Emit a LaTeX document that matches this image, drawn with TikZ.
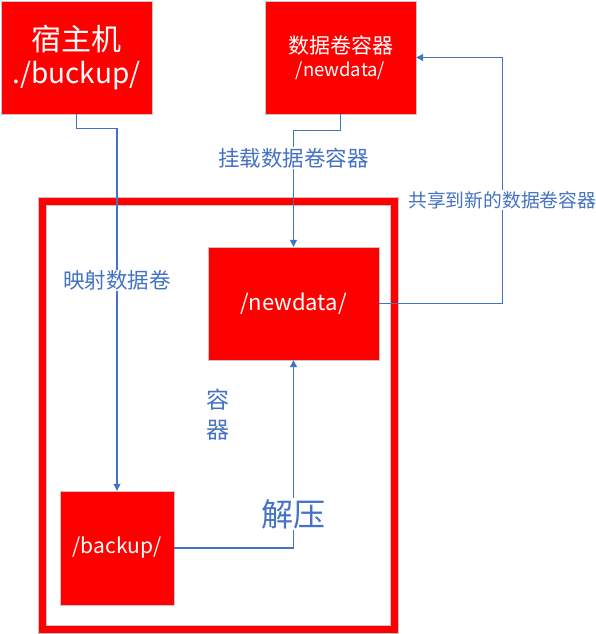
\documentclass[tikz,border=0pt]{standalone}
\usepackage{fontspec}
\setmainfont{Noto Sans CJK SC}
\usetikzlibrary{arrows.meta}
\definecolor{linkblue}{HTML}{4472C4}
\definecolor{boxred}{HTML}{FF0000}
\tikzset{
  redbox/.style={draw=gray!45, fill=boxred, text=white, align=center, inner sep=0pt},
  flow/.style={draw=linkblue, line width=1.1pt, -{Triangle[width=7pt,length=7pt]}},
  tag/.style={fill=white, text=linkblue, inner sep=1pt}
}
\begin{document}
\begin{tikzpicture}[x=1pt,y=-1pt]
            \useasboundingbox (0,0) rectangle (596,634);
            % Container frame
            \node[draw=boxred, line width=8pt, minimum width=352pt, minimum height=427pt, inner sep=0pt] (ctr) at (218,415.5) {};
            \draw[gray!45, line width=0.6pt] (38,197.5) rectangle (398,633);
            \draw[gray!45, line width=0.6pt] (46,205.5) rectangle (390,625);
            \node[text=linkblue, align=center, font=\fontsize{23}{30}\selectfont] (ctrname) at (218,415) {容\\器};
            % Boxes
            \node[redbox, minimum width=151pt, minimum height=113pt] (host) at (76.5,57.5) {\fontsize{30}{37}\selectfont 宿主机\\[8pt]\fontsize{28}{37}\selectfont ./buckup/};
            \node[redbox, minimum width=151pt, minimum height=113pt] (vol) at (340.5,57.5) {\fontsize{21}{28}\selectfont 数据卷容器\\[6pt]\fontsize{18.5}{28}\selectfont /newdata/};
            \node[redbox, minimum width=171pt, minimum height=113pt, font=\fontsize{22}{26}\selectfont] (newdata) at (293.5,303.5) {/newdata/};
            \node[redbox, minimum width=114pt, minimum height=114pt, font=\fontsize{21}{24}\selectfont] (backup) at (117,548) {/backup/};
            % Connectors
            \draw[flow] (host.south) -- ++(0,14) -| node[tag, pos=0.71, font=\fontsize{21.5}{24}\selectfont] (maplbl) {映射数据卷} (backup.north);
            \draw[flow] (vol.south) -- ++(0,16) -| node[tag, pos=0.62, font=\fontsize{21.5}{24}\selectfont] (mountlbl) {挂载数据卷容器} (newdata.north);
            \draw[flow] (backup.east) -| node[tag, pos=0.59, font=\fontsize{32}{36}\selectfont] (unziplbl) {解压} (newdata.south);
            \draw[flow] (newdata.east) -- ++(123,0) |- node[tag, pos=0.21, font=\fontsize{18.8}{22}\selectfont] (sharelbl) {共享到新的数据卷容器} (vol.east);
\end{tikzpicture}
\end{document}
